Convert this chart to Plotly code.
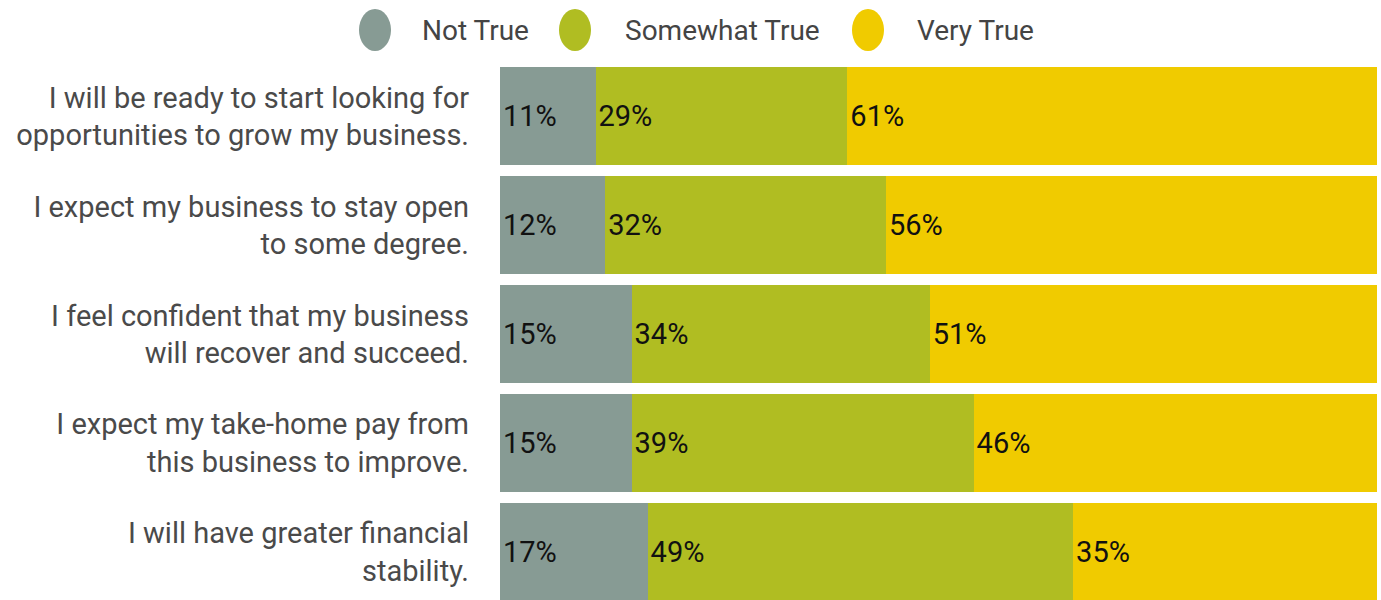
import plotly.graph_objects as go

categories = [
    "I will be ready to start looking for<br>opportunities to grow my business.",
    "I expect my business to stay open<br>to some degree.",
    "I feel confident that my business<br>will recover and succeed.",
    "I expect my take-home pay from<br>this business to improve.",
    "I will have greater financial<br>stability.",
]
series_names = ["Not True", "Somewhat True", "Very True"]
not_true = [11, 12, 15, 15, 17]
somewhat_true = [29, 32, 34, 39, 49]
very_true = [61, 56, 51, 46, 35]
colors = ["#879b94", "#b0bd22", "#f0cb00"]

FONT = "Roboto"
fig = go.Figure()
for name, vals, col in zip(series_names, [not_true, somewhat_true, very_true], colors):
    fig.add_trace(go.Bar(
        y=categories, x=vals, name=name, orientation="h",
        marker=dict(color=col, line=dict(width=0)),
        text=[f"{v}%" for v in vals], textposition="inside",
        insidetextanchor="start", constraintext="none",
        textfont=dict(family=FONT, size=29, color="#111111"),
        showlegend=False, hoverinfo="skip",
    ))

W, H = 1381, 600
L, R, T, B = 500, 4, 62, 0
pw, ph = W - L - R, H - T - B

def px(x):
    return (x - L) / pw

def py(y):
    return 1 + (T - y) / ph

shapes, annotations = [], []
legend_items = [(375, 420), (575, 623), (868, 915)]
for (cx, tx), name, col in zip(legend_items, series_names, colors):
    shapes.append(dict(type="circle", xref="paper", yref="paper",
                       xsizemode="pixel", ysizemode="pixel",
                       xanchor=px(cx), yanchor=py(30),
                       x0=-16, x1=16, y0=-21, y1=21,
                       fillcolor=col, line=dict(width=0)))
    annotations.append(dict(text=name, xref="paper", yref="paper",
                            x=px(tx), y=py(31), xanchor="left", yanchor="middle",
                            showarrow=False,
                            font=dict(family=FONT, size=28, color="#444444")))

fig.update_layout(
    width=W, height=H, barmode="stack", barnorm="percent", bargap=0.1,
    margin=dict(l=L, r=R, t=T, b=B),
    plot_bgcolor="white", paper_bgcolor="white",
    font=dict(family=FONT, size=29, color="#444444"),
    xaxis=dict(visible=False, range=[0, 100]),
    yaxis=dict(autorange=False, range=[4.44, -0.5], showgrid=False,
               ticklabelstandoff=30, showline=False, ticks="",
               tickfont=dict(family=FONT, size=29, color="#4a4a4a")),
    shapes=shapes, annotations=annotations,
)
fig.write_html("out.html", config={"displayModeBar": False},
               post_script="document.body.style.margin='0';")
